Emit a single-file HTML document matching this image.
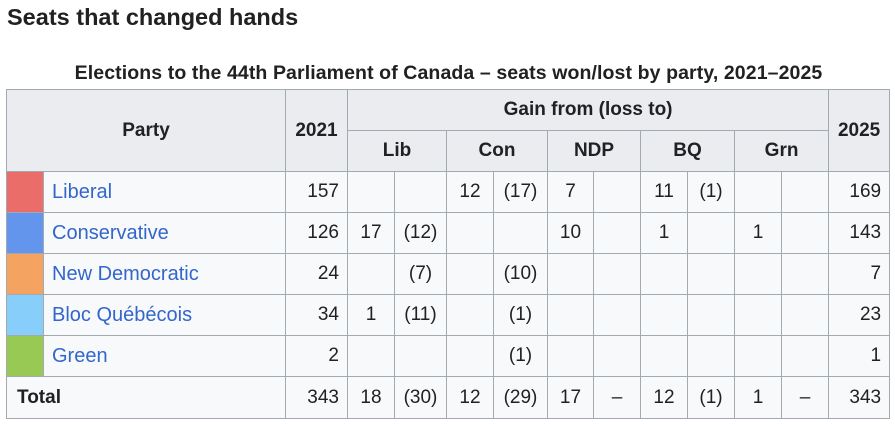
<!DOCTYPE html>
<html><head><meta charset="utf-8"><style>
body{margin:0;width:895px;height:425px;background:#fff;font-family:"Liberation Sans",Arial,sans-serif;color:#202122;position:relative;overflow:hidden}
h2{position:absolute;left:7px;top:4px;margin:0;font-size:23.5px;font-weight:bold}
.cap{position:absolute;left:0;width:897px;top:62px;text-align:center;font-size:19.5px;font-weight:bold;letter-spacing:0.1px}
table{position:absolute;left:6px;top:89px;border-collapse:collapse;table-layout:fixed;width:884px;font-size:19px}
td,th{border:1px solid #a2a9b1;padding:0 8px;background:#f8f9fa;overflow:hidden;white-space:nowrap}
th{background:#eaecf0;font-weight:bold;text-align:center}
tr{height:41px}
.r{text-align:right}
.c{text-align:center}
a{color:#3366cc;text-decoration:none;font-size:20px}
.sw{padding:0}
</style></head><body>
<h2>Seats that changed hands</h2>
<div class="cap">Elections to the 44th Parliament of Canada – seats won/lost by party, 2021–2025</div>
<table>
<colgroup><col style="width:37px"><col style="width:242px"><col style="width:62px"><col style="width:47px"><col style="width:52px"><col style="width:47px"><col style="width:54px"><col style="width:46px"><col style="width:47px"><col style="width:47px"><col style="width:47px"><col style="width:47px"><col style="width:47px"><col style="width:61px"></colgroup>
<tr><th colspan="2" rowspan="2">Party</th><th rowspan="2">2021</th><th colspan="10">Gain from (loss to)</th><th rowspan="2">2025</th></tr>
<tr><th colspan="2">Lib</th><th colspan="2">Con</th><th colspan="2">NDP</th><th colspan="2">BQ</th><th colspan="2">Grn</th></tr>
<tr><td class="sw" style="background:#EA6D6A"></td><td><a href="#">Liberal</a></td><td class="r">157</td><td></td><td></td><td class="c">12</td><td class="c">(17)</td><td class="c">7</td><td></td><td class="c">11</td><td class="c">(1)</td><td></td><td></td><td class="r">169</td></tr>
<tr><td class="sw" style="background:#6495ED"></td><td><a href="#">Conservative</a></td><td class="r">126</td><td class="c">17</td><td class="c">(12)</td><td></td><td></td><td class="c">10</td><td></td><td class="c">1</td><td></td><td class="c">1</td><td></td><td class="r">143</td></tr>
<tr><td class="sw" style="background:#F4A460"></td><td><a href="#">New Democratic</a></td><td class="r">24</td><td></td><td class="c">(7)</td><td></td><td class="c">(10)</td><td></td><td></td><td></td><td></td><td></td><td></td><td class="r">7</td></tr>
<tr><td class="sw" style="background:#87CEFA"></td><td><a href="#">Bloc Québécois</a></td><td class="r">34</td><td class="c">1</td><td class="c">(11)</td><td></td><td class="c">(1)</td><td></td><td></td><td></td><td></td><td></td><td></td><td class="r">23</td></tr>
<tr><td class="sw" style="background:#99C955"></td><td><a href="#">Green</a></td><td class="r">2</td><td></td><td></td><td></td><td class="c">(1)</td><td></td><td></td><td></td><td></td><td></td><td></td><td class="r">1</td></tr>
<tr style="height:42px"><td colspan="2" style="font-weight:bold;padding-left:10px">Total</td><td class="r">343</td><td class="c">18</td><td class="c">(30)</td><td class="c">12</td><td class="c">(29)</td><td class="c">17</td><td class="c">–</td><td class="c">12</td><td class="c">(1)</td><td class="c">1</td><td class="c">–</td><td class="r">343</td></tr>
</table>
</body></html>
